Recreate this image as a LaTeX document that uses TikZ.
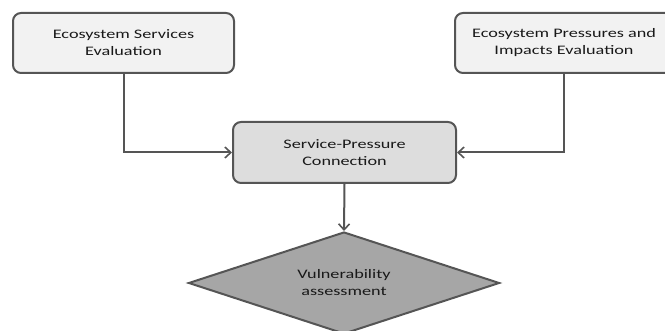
\documentclass[tikz,border=0pt]{standalone}
\usepackage{fontspec}
\setmainfont[FakeStretch=1.4]{Carlito}
\usetikzlibrary{arrows.meta,shapes.geometric}
\definecolor{edgegray}{HTML}{555555}
\definecolor{lightbox}{HTML}{F2F2F2}
\definecolor{midbox}{HTML}{DDDDDD}
\definecolor{diamgray}{HTML}{A6A6A6}
\tikzset{
 evalbox/.style={draw=edgegray,line width=2pt,rounded corners=8pt,fill=lightbox,
   minimum height=60pt,align=center,inner sep=0pt,
   font=\fontsize{13}{17}\selectfont,text=black!90},
 flowline/.style={draw=edgegray,line width=2pt,-{Straight Barb[length=6pt,width=11pt,line width=1.6pt]}}
}
\begin{document}
\begin{tikzpicture}[x=1pt,y=-1pt]
 \clip (0,0) rectangle (665,331);
 \useasboundingbox (0,0) rectangle (665,331);
 % evaluation boxes
 \node[evalbox,minimum width=221pt] (services) at (123.5,43) {Ecosystem Services\\Evaluation};
 \node[evalbox,minimum width=218pt] (pressures) at (564,43) {Ecosystem Pressures and\\Impacts Evaluation};
 %
 \node[evalbox,fill=midbox,minimum width=223pt,minimum height=61pt] (connection) at (344.5,152.5) {Service-Pressure\\Connection};
 %
 \node[diamond,draw=edgegray,line width=2pt,fill=diamgray,aspect=3,inner sep=0pt,
   minimum width=311pt,minimum height=102pt,align=center,
   font=\fontsize{13}{17}\selectfont,text=black!90] (vulnerability) at (344,283) {Vulnerability\\assessment};
 % connectors
 \draw[flowline] (services.south) |- (connection.west);
 \draw[flowline] (pressures.south) |- (connection.east);
 \draw[flowline] (connection.south) -- (vulnerability.north);
\end{tikzpicture}
\end{document}
